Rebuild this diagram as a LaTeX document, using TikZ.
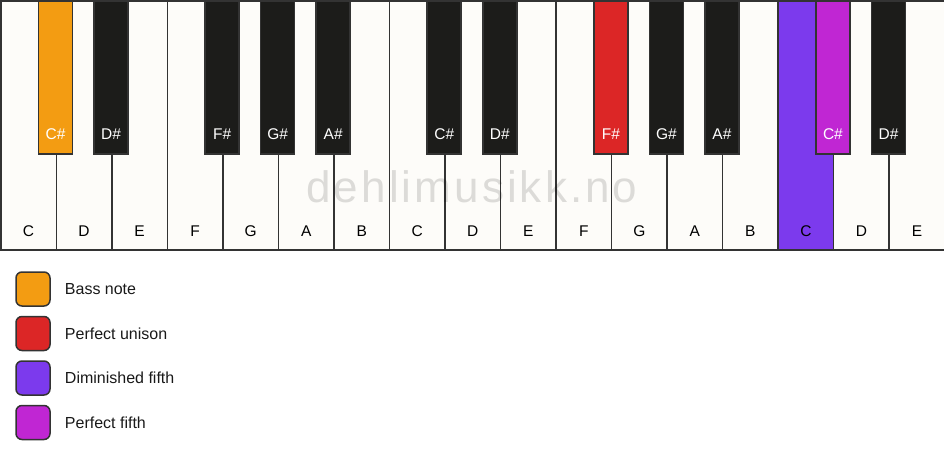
\documentclass[tikz,border=0pt]{standalone}
\usepackage{fontspec}
\setmainfont{Liberation Sans}
\usetikzlibrary{positioning}

\definecolor{keywhite}{HTML}{FDFCF9}
\definecolor{keyblack}{HTML}{1C1C1A}
\definecolor{keyedge}{HTML}{333333}
\definecolor{bassnote}{HTML}{F39C12}
\definecolor{unison}{HTML}{DC2626}
\definecolor{dimfifth}{HTML}{7C3AED}
\definecolor{perffifth}{HTML}{C026D3}

\tikzset{
    whitekey/.style={draw=keyedge, line width=1.5pt, minimum width=55.53pt, minimum height=249pt, anchor=north west, inner sep=0pt},
    blackkey/.style={draw=keyedge, line width=1.5pt, minimum width=34pt, minimum height=153pt, anchor=north, inner sep=0pt},
    keyname/.style={font=\fontsize{15.5}{18}\selectfont, inner sep=0pt},
    legendbox/.style={draw=keyedge, line width=1.5pt, rounded corners=6pt, minimum size=34pt, inner sep=0pt},
    legendtext/.style={font=\fontsize{16}{19}\selectfont, text=black!90, inner sep=0pt, anchor=west},
    watermark/.style={font=\fontsize{44}{46}\selectfont\addfontfeatures{LetterSpace=7}, text=black, opacity=0.13, inner sep=0pt, anchor=base}
}

\begin{document}
\begin{tikzpicture}[x=1pt, y=-1pt]
    \useasboundingbox (0,0) rectangle (944,461);
    % \draw[help lines, step=50] (0,0) grid (944,461);

    % white keys
    \foreach \n/\c [count=\i from 0] in {C/keywhite, D/keywhite, E/keywhite, F/keywhite, G/keywhite, A/keywhite, B/keywhite,
                                         C/keywhite, D/keywhite, E/keywhite, F/keywhite, G/keywhite, A/keywhite, B/keywhite,
                                         C/dimfifth, D/keywhite, E/keywhite}
    {
        \node[whitekey, fill=\c] (w\i) at (\i*55.53, 0) {};
        \node[keyname] (lw\i) at ([yshift=19pt]w\i.south) {\n};
    }

    \node[watermark] (mark) at (472,202) {dehlimusikk.no};

    % black keys
    \foreach \k/\n/\c in {1/C/bassnote, 2/D/keyblack, 4/F/keyblack, 5/G/keyblack, 6/A/keyblack,
                          8/C/keyblack, 9/D/keyblack, 11/F/unison, 12/G/keyblack, 13/A/keyblack,
                          15/C/perffifth, 16/D/keyblack}
    {
        \node[blackkey, fill=\c] (b\k) at (\k*55.53, 0) {};
        \node[keyname, text=white] (lb\k) at ([yshift=20pt]b\k.south) {\n\#};
    }

    % legend
    \node[legendbox, fill=bassnote] (lg1) at (33,289) {};
    \node[legendbox, fill=unison] (lg2) at (33,333.5) {};
    \node[legendbox, fill=dimfifth] (lg3) at (33,378) {};
    \node[legendbox, fill=perffifth] (lg4) at (33,422.5) {};
    \node[legendtext, right=14pt of lg1] (lt1) {Bass note};
    \node[legendtext, right=14pt of lg2] (lt2) {Perfect unison};
    \node[legendtext, right=14pt of lg3] (lt3) {Diminished fifth};
    \node[legendtext, right=14pt of lg4] (lt4) {Perfect fifth};
\end{tikzpicture}
\end{document}
